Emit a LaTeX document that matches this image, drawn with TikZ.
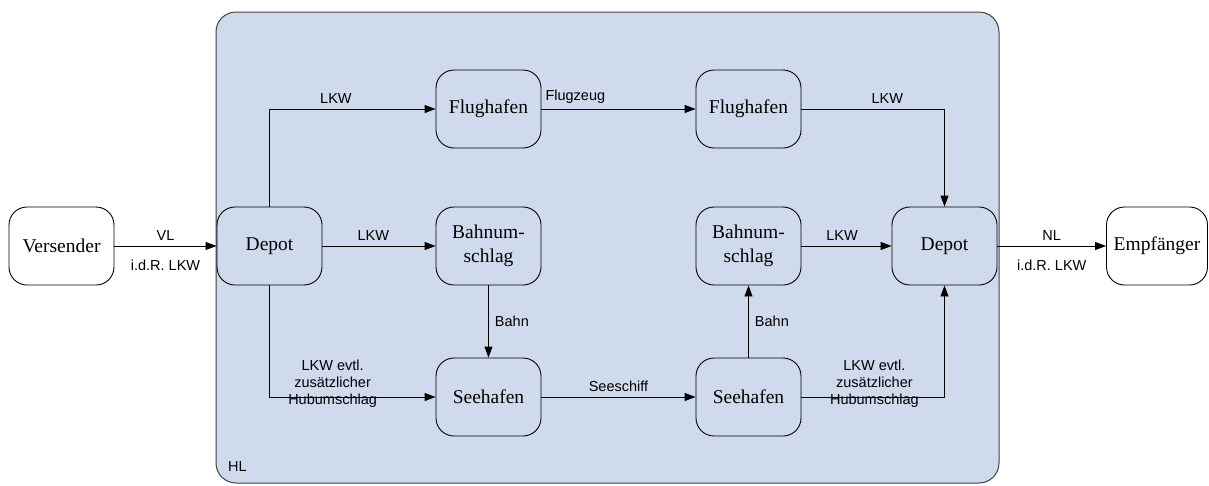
\documentclass[tikz,border=0pt]{standalone}
\usepackage{fontspec}
\setmainfont{Liberation Serif}
\setsansfont{Liberation Sans}
\usetikzlibrary{arrows.meta}
\definecolor{hlblue}{RGB}{207,219,236}
\definecolor{frame}{RGB}{64,64,64}
\begin{document}
\begin{tikzpicture}[x=1pt,y=-1pt,
  station/.style={draw=black,line width=0.9pt,rounded corners=18pt,
    minimum width=105pt,minimum height=78pt,inner sep=2pt,
    font=\fontsize{19.5}{24}\selectfont,align=center},
  inner/.style={station,fill=hlblue},
  outer/.style={station,fill=white},
  flow/.style={draw=black,line width=0.9pt,-{Triangle[length=11pt,width=8pt]}},
  lbl/.style={font=\sffamily\fontsize{14.5}{17}\selectfont,inner sep=2pt,align=center},
]
\useasboundingbox (0,0) rectangle (1209,485);

% main haul area
\draw[frame,line width=1pt,fill=hlblue,rounded corners=20pt] (216,12) rectangle (999,483);
\node[lbl,anchor=west] (hl) at (226,467) {HL};

% stations
\node[outer] (vers) at (61.5,246) {Versender};
\node[outer,minimum width=101pt] (empf) at (1157,246) {Empfänger};
\node[inner] (depL) at (269.5,246) {Depot};
\node[inner] (depR) at (944.5,246) {Depot};
\node[inner] (flugL) at (488.5,109) {Flughafen};
\node[inner] (flugR) at (748.5,109) {Flughafen};
\node[inner] (bahnL) at (488.5,246) {Bahnum-\\schlag};
\node[inner] (bahnR) at (748.5,246) {Bahnum-\\schlag};
\node[inner] (seeL) at (488.5,397) {Seehafen};
\node[inner] (seeR) at (748.5,397) {Seehafen};

% pre- and on-carriage
\draw[flow] (vers) -- (depL)
  node[lbl,midway,above=3pt] {VL}
  node[lbl,midway,below=12pt] {i.d.R. LKW};
\draw[flow] (depR) -- (empf)
  node[lbl,midway,above=3pt] {NL}
  node[lbl,midway,below=12pt] {i.d.R. LKW};

% air route
\draw[flow] (depL.north) |- (flugL.west) node[lbl,pos=0.7,above=3pt] {LKW};
\draw[flow] (flugL) -- (flugR) node[lbl,pos=0.22,above=3pt] {Flugzeug};
\draw[flow] (flugR.east) -| (depR.north) node[lbl,pos=0.3,above=3pt] {LKW};

% rail route
\draw[flow] (depL) -- (bahnL) node[lbl,pos=0.45,above=3pt] {LKW};
\draw[flow] (bahnL) -- (seeL) node[lbl,midway,right=4pt] {Bahn};
\draw[flow] (seeR) -- (bahnR) node[lbl,midway,right=4pt] {Bahn};
\draw[flow] (bahnR) -- (depR) node[lbl,pos=0.45,above=3pt] {LKW};

% sea route
\draw[flow] (depL.south) |- (seeL.west)
  node[lbl,pos=0.69,yshift=13pt] {LKW evtl.\\zusätzlicher\\Hubumschlag};
\draw[flow] (seeL) -- (seeR) node[lbl,midway,above=3pt] {Seeschiff};
\draw[flow] (seeR.east) -| (depR.south)
  node[lbl,pos=0.255,yshift=13pt] {LKW evtl.\\zusätzlicher\\Hubumschlag};
\end{tikzpicture}
\end{document}
